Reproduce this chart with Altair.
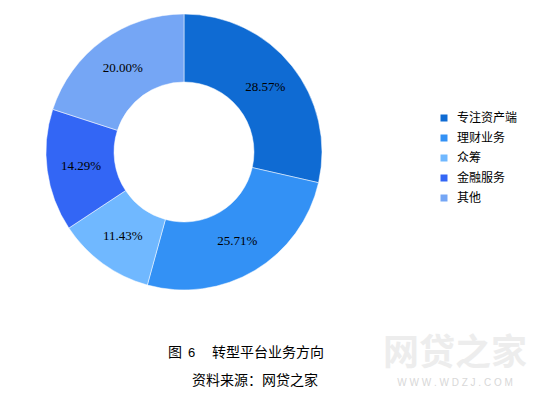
import altair as alt
import pandas as pd

categories = ["专注资产端", "理财业务", "众筹", "金融服务", "其他"]
values = [28.57, 25.71, 11.43, 14.29, 20.00]
labels = ["28.57%", "25.71%", "11.43%", "14.29%", "20.00%"]
colors = ["#0F6BD3", "#3391F5", "#70B8FF", "#3366F5", "#75A6F5"]

title_parts = ["图", "6", "转型平台业务方向"]
source_text = "资料来源：网贷之家"
watermark_big = "网贷之家"
watermark_small = "W W W . W D Z J . C O M"

df = pd.DataFrame({
    "cat": categories,
    "val": values,
    "label": labels,
    "idx": list(range(len(categories))),
})

W, H = 538, 382
CX, CY = 176, 144

base = alt.Chart(df).encode(
    theta=alt.Theta("val:Q", stack=True),
    order=alt.Order("idx:Q", sort="ascending"),
)

arcs = base.mark_arc(outerRadius=138, innerRadius=70, stroke="white", strokeWidth=0.5).encode(
    x=alt.value(CX),
    y=alt.value(CY),
    color=alt.Color(
        "cat:N",
        scale=alt.Scale(domain=categories, range=colors),
        sort=categories,
        legend=alt.Legend(
            title=None,
            orient="none",
            legendX=430,
            legendY=104,
            symbolType="square",
            symbolSize=49,
            symbolStrokeWidth=0,
            labelFont="Noto Sans CJK SC",
            labelFontSize=12,
            labelColor="#000000",
            labelOffset=7,
            rowPadding=8,
            padding=0,
        ),
    ),
)

texts = base.mark_text(radius=104, font="Liberation Serif", fontSize=13, color="#000000").encode(
    x=alt.value(CX),
    y=alt.value(CY),
    text="label:N",
)

def txt(s, x, y, size, color="#000000", font="Noto Sans CJK SC", weight="normal", align="left"):
    return alt.Chart(pd.DataFrame({"t": [s]})).mark_text(
        font=font, fontSize=size, color=color, fontWeight=weight, align=align, baseline="middle"
    ).encode(x=alt.value(x), y=alt.value(y), text="t:N")

t1 = txt(title_parts[0], 160, 345, 14)
t2 = txt(title_parts[1], 180, 345, 13, font="Liberation Sans")
t3 = txt(title_parts[2], 204, 345, 14)
t4 = txt(source_text, 184, 373, 14)
w1 = txt(watermark_big, 447, 346, 36, color="#ededed", weight="bold", align="center")
w2 = txt(watermark_small, 447, 375, 10, color="#d8d8d8", font="Liberation Sans", align="center")

chart = alt.layer(w1, w2, arcs, texts, t1, t2, t3, t4).properties(
    width=W, height=H, padding=0, autosize=alt.AutoSizeParams(type="none")
).configure_view(stroke=None)

chart.save("out.html", embed_options={"renderer": "svg", "actions": False})
